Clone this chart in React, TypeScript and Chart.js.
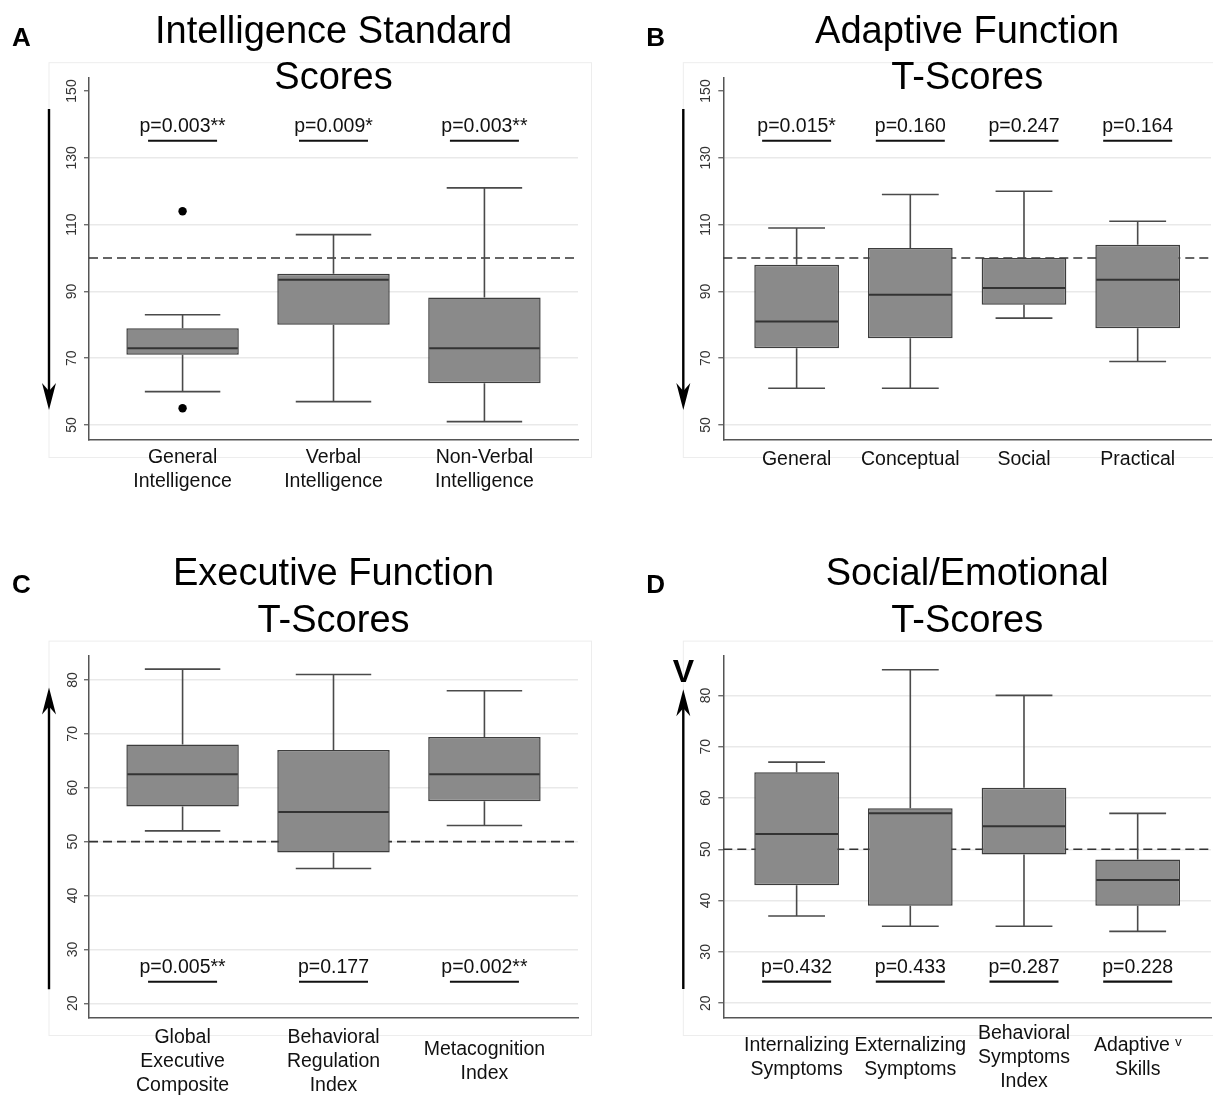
import React, { useEffect, useRef } from 'react'
import { Chart, registerables, ChartConfiguration, Plugin } from 'chart.js'

Chart.register(...registerables)

const FONT = "'Liberation Sans', Arial, Helvetica, sans-serif"
Chart.defaults.font.family = FONT

// ---- A: intelligence standard scores
const catsA = [['General', 'Intelligence'], ['Verbal', 'Intelligence'], ['Non-Verbal', 'Intelligence']]
const minA = [60, 57, 51]
const q1A = [71, 80, 62.5]
const medA = [73, 93.5, 73]
const q3A = [79, 95.25, 88.2]
const maxA = [83, 107, 121]
const outCatA = [0, 0]
const outValA = [114, 55]
const pA = ['p=0.003**', 'p=0.009*', 'p=0.003**']

// ---- B: adaptive function
const catsB = ['General', 'Conceptual', 'Social', 'Practical']
const minB = [61, 61, 82, 69]
const q1B = [73, 76, 86, 79]
const medB = [81, 89, 91, 93.5]
const q3B = [98, 103, 100, 104]
const maxB = [109, 119, 120, 111]
const pB = ['p=0.015*', 'p=0.160', 'p=0.247', 'p=0.164']

// ---- C: executive function
const catsC = [['Global', 'Executive', 'Composite'], ['Behavioral', 'Regulation', 'Index'], ['Metacognition', 'Index']]
const minC = [52, 45, 53]
const q1C = [56.5, 48, 57.5]
const medC = [62.5, 55.5, 62.5]
const q3C = [68, 67, 69.4]
const maxC = [82, 81, 78]
const pC = ['p=0.005**', 'p=0.177', 'p=0.002**']

// ---- D: social / emotional
const catsD = [['Internalizing', 'Symptoms'], ['Externalizing', 'Symptoms'], ['Behavioral', 'Symptoms', 'Index'], ['Adaptive ᵛ', 'Skills']]
const minD = [37, 35, 35, 34]
const q1D = [43, 39, 49, 39]
const medD = [53, 57, 54.5, 44]
const q3D = [65, 58, 62, 48]
const maxD = [67, 85, 80, 57]
const pD = ['p=0.432', 'p=0.433', 'p=0.287', 'p=0.228']

const ticksAB = [50, 70, 90, 110, 130, 150]
const ticksCD = [20, 30, 40, 50, 60, 70, 80]

interface Panel {
  letter: string
  title: string[]
  cats: (string | string[])[]
  mins: number[]
  q1: number[]
  meds: number[]
  q3: number[]
  maxs: number[]
  outCat: number[]
  outVal: number[]
  pvals: string[]
  yTicks: number[]
  yMin: number
  yMax: number
  xPad: number
  ref: number
  pLine: number
  arrow: [number, number]
  mark?: string
  left: number
  top: number
  width: number
  height: number
  pad: { left: number; right: number; top: number; bottom: number }
  xH: number
  titleBase: number
  titleGap: number
  letterBase: number
  tickPad: number
  labelPad: number
}

const panels: Panel[] = [
  {
    letter: 'A', title: ['Intelligence Standard', 'Scores'],
    cats: catsA, mins: minA, q1: q1A, meds: medA, q3: q3A, maxs: maxA,
    outCat: outCatA, outVal: outValA, pvals: pA, yTicks: ticksAB,
    yMin: 45.72, yMax: 154.1, xPad: 0.62, ref: 100, pLine: 135.1, arrow: [144.6, 54.5],
    left: 0, top: 0, width: 606, height: 520,
    pad: { left: 49, right: 28, top: 77.3, bottom: 0 }, xH: 80.7,
    titleBase: -34.6, titleGap: 46, letterBase: -31.3, tickPad: 0, labelPad: 18.4
  },
  {
    letter: 'B', title: ['Adaptive Function', 'T-Scores'],
    cats: catsB, mins: minB, q1: q1B, meds: medB, q3: q3B, maxs: maxB,
    outCat: [], outVal: [], pvals: pB, yTicks: ticksAB,
    yMin: 45.72, yMax: 154.1, xPad: 0.645, ref: 100, pLine: 135.1, arrow: [144.6, 54.5],
    left: 606, top: 0, width: 607, height: 520,
    pad: { left: 77.3, right: 2, top: 77.3, bottom: 0 }, xH: 80.7,
    titleBase: -34.6, titleGap: 46, letterBase: -31.3, tickPad: 0, labelPad: 20
  },
  {
    letter: 'C', title: ['Executive Function', 'T-Scores'],
    cats: catsC, mins: minC, q1: q1C, meds: medC, q3: q3C, maxs: maxC,
    outCat: [], outVal: [], pvals: pC, yTicks: ticksCD,
    yMin: 17.4, yMax: 84.5, xPad: 0.62, ref: 50, pLine: 24.0, arrow: [22.6, 78.6],
    left: 0, top: 520, width: 606, height: 577,
    pad: { left: 49, right: 28, top: 135.7, bottom: 0 }, xH: 79.7,
    titleBase: -70.7, titleGap: 47, letterBase: -62.4, tickPad: 3.5, labelPad: 20
  },
  {
    letter: 'D', title: ['Social/Emotional', 'T-Scores'],
    cats: catsD, mins: minD, q1: q1D, meds: medD, q3: q3D, maxs: maxD,
    outCat: [], outVal: [], pvals: pD, yTicks: ticksCD,
    yMin: 17.24, yMax: 87.74, xPad: 0.645, ref: 50, pLine: 24.2, arrow: [22.75, 81.2], mark: 'V',
    left: 606, top: 520, width: 607, height: 577,
    pad: { left: 77.3, right: 2, top: 135.7, bottom: 0 }, xH: 79.7,
    titleBase: -70.7, titleGap: 47, letterBase: -62.4, tickPad: 4.3, labelPad: 16
  }
]

function decor(p: Panel): Plugin {
  return {
    id: 'decor' + p.letter,
    beforeDraw(chart) {
      const { ctx, chartArea: a } = chart
      ctx.save()
      ctx.strokeStyle = '#ededed'
      ctx.lineWidth = 1
      ctx.strokeRect(a.left - 40, a.top - 14.6, a.width + 53.5, a.height + 32.8)
      ctx.restore()
    },
    beforeDatasetsDraw(chart) {
      const { ctx, chartArea: a } = chart
      const x = chart.scales.x
      const y = chart.scales.y
      ctx.save()
      // reference line
      const ry = y.getPixelForValue(p.ref)
      ctx.setLineDash([9, 5])
      ctx.strokeStyle = '#333'
      ctx.lineWidth = 1.6
      ctx.beginPath()
      ctx.moveTo(a.left, ry)
      ctx.lineTo(a.right, ry)
      ctx.stroke()
      ctx.setLineDash([])
      // whiskers
      const half = (x.getPixelForValue(1) - x.getPixelForValue(0)) * 0.25
      ctx.strokeStyle = '#4a4a4a'
      ctx.lineWidth = 1.6
      p.cats.forEach((_, i) => {
        const cx = x.getPixelForValue(i)
        const lo = y.getPixelForValue(p.mins[i])
        const hi = y.getPixelForValue(p.maxs[i])
        const b1 = y.getPixelForValue(p.q1[i])
        const b3 = y.getPixelForValue(p.q3[i])
        ctx.beginPath()
        ctx.moveTo(cx, b1); ctx.lineTo(cx, lo)
        ctx.moveTo(cx, b3); ctx.lineTo(cx, hi)
        ctx.moveTo(cx - half, lo); ctx.lineTo(cx + half, lo)
        ctx.moveTo(cx - half, hi); ctx.lineTo(cx + half, hi)
        ctx.stroke()
      })
      ctx.restore()
    },
    afterDatasetsDraw(chart) {
      const { ctx, chartArea: a } = chart
      const x = chart.scales.x
      const y = chart.scales.y
      ctx.save()
      // medians
      const bars = chart.getDatasetMeta(0).data
      ctx.strokeStyle = '#333'
      ctx.lineWidth = 2
      bars.forEach((el: any, i: number) => {
        const { x: bx, width: bw } = el.getProps(['x', 'width'], true)
        const my = y.getPixelForValue(p.meds[i])
        ctx.beginPath()
        ctx.moveTo(bx - bw / 2 + 1, my)
        ctx.lineTo(bx + bw / 2 - 1, my)
        ctx.stroke()
      })
      // p-values with underline
      const ly = y.getPixelForValue(p.pLine)
      ctx.font = `19.5px ${FONT}`
      ctx.fillStyle = '#111'
      ctx.textAlign = 'center'
      ctx.textBaseline = 'alphabetic'
      ctx.strokeStyle = '#111'
      ctx.lineWidth = 2.2
      p.pvals.forEach((t, i) => {
        const cx = x.getPixelForValue(i)
        ctx.fillText(t, cx, ly - 8.5)
        ctx.beginPath()
        ctx.moveTo(cx - 34.5, ly)
        ctx.lineTo(cx + 34.5, ly)
        ctx.stroke()
      })
      // direction arrow
      const ax = a.left - 40
      const y0 = y.getPixelForValue(p.arrow[0])
      const y1 = y.getPixelForValue(p.arrow[1])
      const dir = Math.sign(y1 - y0)
      ctx.strokeStyle = '#000'
      ctx.fillStyle = '#000'
      ctx.lineWidth = 2.4
      ctx.beginPath()
      ctx.moveTo(ax, y0)
      ctx.lineTo(ax, y1 - dir * 12)
      ctx.stroke()
      ctx.beginPath()
      ctx.moveTo(ax, y1)
      ctx.lineTo(ax - 7, y1 - dir * 27)
      ctx.lineTo(ax, y1 - dir * 19)
      ctx.lineTo(ax + 7, y1 - dir * 27)
      ctx.closePath()
      ctx.fill()
      if (p.mark) {
        ctx.font = `bold 32px ${FONT}`
        ctx.fillText(p.mark, ax, y1 - 7.3)
      }
      // title
      ctx.font = `38px ${FONT}`
      ctx.fillStyle = '#000'
      const tx = (a.left + a.right) / 2
      p.title.forEach((t, i) => ctx.fillText(t, tx, a.top + p.titleBase + i * p.titleGap))
      // panel letter
      ctx.font = `bold 26px ${FONT}`
      ctx.textAlign = 'left'
      ctx.fillText(p.letter, a.left - 77, a.top + p.letterBase)
      ctx.restore()
    }
  }
}

function buildConfig(p: Panel): ChartConfiguration {
  return {
    type: 'bar',
    data: {
      datasets: [
        {
          type: 'bar',
          data: p.cats.map((_, i) => ({ x: i, y: [p.q1[i], p.q3[i]] })),
          backgroundColor: '#8a8a8a',
          borderColor: '#3d3d3d',
          borderWidth: 1.5,
          borderSkipped: false,
          barPercentage: 0.745,
          categoryPercentage: 1
        },
        {
          type: 'scatter',
          data: p.outCat.map((c, i) => ({ x: c, y: p.outVal[i] })),
          pointRadius: 4.2,
          backgroundColor: '#000',
          borderWidth: 0
        }
      ]
    } as any,
    options: {
      animation: false,
      responsive: false,
      events: [],
      layout: { padding: p.pad, autoPadding: false },
      plugins: {
        legend: { display: false },
        tooltip: { enabled: false },
        title: { display: false }
      },
      scales: {
        x: {
          type: 'linear',
          bounds: 'data',
          min: -p.xPad,
          max: p.cats.length - 1 + p.xPad,
          offset: false,
          grid: { display: false, drawTicks: false, offset: false },
          border: { display: true, color: '#555', width: 1.5 },
          afterBuildTicks: (s: any) => { s.ticks = p.cats.map((_, i) => ({ value: i })) },
          afterFit: (s: any) => { s.height = p.xH },
          ticks: {
            callback: (v: any) => p.cats[Number(v)],
            autoSkip: false,
            maxRotation: 0,
            minRotation: 0,
            crossAlign: 'center',
            padding: p.labelPad,
            color: '#111',
            font: { family: FONT, size: 19.5, lineHeight: 1.23 }
          }
        },
        y: {
          type: 'linear',
          bounds: 'data',
          min: p.yMin,
          max: p.yMax,
          afterBuildTicks: (s: any) => { s.ticks = p.yTicks.map(v => ({ value: v })) },
          afterFit: (s: any) => { s.width = 40 },
          grid: {
            color: (ctx: any) => {
              const s = ctx.scale
              if (!s || !ctx.tick) return '#e9e9e9'
              return s.getPixelForValue(ctx.tick.value) - s.top < 16 ? 'rgba(0,0,0,0)' : '#e9e9e9'
            },
            lineWidth: 1.5,
            drawTicks: true,
            tickLength: 5,
            tickColor: '#555',
            tickWidth: 1.2
          },
          border: { display: true, color: '#555', width: 1.5 },
          ticks: {
            minRotation: 90,
            maxRotation: 90,
            crossAlign: 'center',
            padding: p.tickPad,
            color: '#333',
            font: { family: FONT, size: 14 }
          }
        }
      }
    } as any,
    plugins: [decor(p)]
  } as ChartConfiguration
}

function BoxPanel({ p }: { p: Panel }) {
  const canvasRef = useRef<HTMLCanvasElement | null>(null)

  useEffect(() => {
    if (!canvasRef.current) return
    const chart = new Chart(canvasRef.current, buildConfig(p))
    return () => {
      chart.destroy()
    }
  }, [p])

  return (
    <canvas
      ref={canvasRef}
      width={p.width}
      height={p.height}
      style={{ position: 'absolute', left: p.left, top: p.top, width: p.width, height: p.height }}
    />
  )
}

export default function App() {
  return (
    <div style={{ position: 'absolute', left: 0, top: 0, width: 1213, height: 1097, background: '#fff', overflow: 'hidden' }}>
      {panels.map(p => <BoxPanel key={p.letter} p={p} />)}
    </div>
  )
}
